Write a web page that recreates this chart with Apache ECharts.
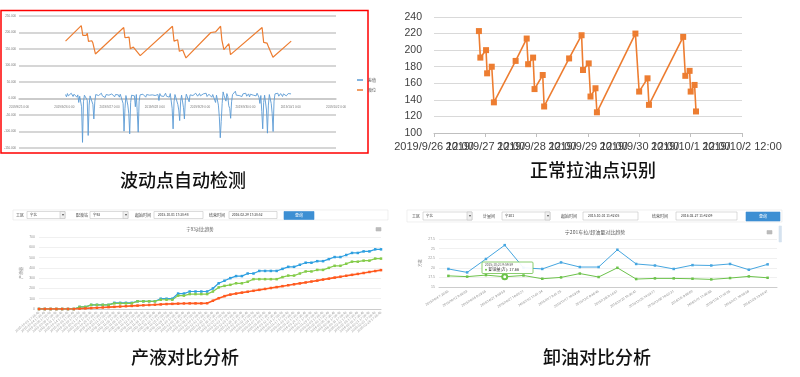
<!DOCTYPE html>
<html>
<head>
<meta charset="utf-8">
<script src="https://cdn.jsdelivr.net/npm/echarts@6/dist/echarts.min.js"></script>
<style>
  html, body { margin: 0; padding: 0; background: #fff; }
  #main { width: 800px; height: 377px; }
</style>
</head>
<body>
<div id="main"></div>
<script>
// ---- 波动点自动检测 (top left) ----
const p1Base = '2019-09-25 00:00'
const p1TickLabels = ['2019/9/25 0:00', '2019/9/26 0:00', '2019/9/27 0:00', '2019/9/28 0:00',
    '2019/9/29 0:00', '2019/9/30 0:00', '2019/10/1 0:00', '2019/10/2 0:00']
const levelTimes = ['2019-09-26 00:40', '2019-09-26 09:00', '2019-09-26 09:50', '2019-09-26 11:35',
    '2019-09-26 12:10', '2019-09-26 12:50', '2019-09-26 14:35', '2019-09-26 15:10', '2019-09-26 16:30',
    '2019-09-27 07:30', '2019-09-27 08:10', '2019-09-27 10:20', '2019-09-27 11:00', '2019-09-27 12:35',
    '2019-09-27 16:15', '2019-09-28 09:20', '2019-09-28 10:10', '2019-09-28 12:05', '2019-09-28 13:00',
    '2019-09-28 14:45', '2019-09-28 16:30', '2019-09-29 05:40', '2019-09-29 08:10', '2019-09-29 10:50',
    '2019-09-29 11:30', '2019-09-29 12:35', '2019-09-29 15:15', '2019-09-29 16:05', '2019-09-30 08:50',
    '2019-09-30 09:40', '2019-09-30 11:25', '2019-09-30 12:20', '2019-09-30 13:10', '2019-09-30 14:35',
    '2019-10-01 00:15']
const levelValues = [174, 221, 191, 191, 198, 173, 175, 168, 135, 215, 184, 186, 151, 156, 130,
    219, 174, 178, 143, 147, 123, 200, 202, 219, 178, 148, 166, 133, 215, 170, 168, 155, 156, 125, 174]
// sampled every 30 min from diffStart
const diffStart = '2019-09-26 00:40'
const diffValues = [
    12, 5, 15, 8, 14, 3, 16, 10, 6, 13, 9, 15, 4, 11, -12, 7, 12, -25, -133, -10, 10, 6, 13, -5,
    -112, -20, 8, 14, 5, -18, -62, -10, 12, 6, 15, 9, 13, 4, 16, 8, 11, 14, 3, 12, 15, 7, 10, 13,
    6, 14, 9, 16, 5, 12, 8, 15, 11, 4, 13, 18, 7, -15, -99, -30, 9, 14, -20, -45, -107, -12, 10, 6,
    14, 8, -25, 12, -40, -102, -8, 11, 15, 6, 13, 9, 16, 4, 12, 8, 15, 10, 5, 14, 11, 7, 16, 9,
    13, 5, 12, -6, 15, 8, 11, 14, 6, 10, 16, 7, 13, 9, 4, 15, 11, -30, -92, -10, 12, 7, 14, -18,
    -35, -67, -8, 10, 5, -28, -62, -5, 13, 8, 15, -10, 11, 6, 14, 9, 12, 4, 16, 10, 7, 13, 15, 8,
    11, 5, 14, 9, 12, 16, 6, 10, 13, 8, 15, 4, 12, 9, 14, -12, 10, 7, -20, -55, -119, -70, -15, 20,
    9, 13, -8, 15, 6, -22, -30, -60, -10, 12, 8, 14, 22, 10, 5, 13, 9, 15, 11, 6, 14, 8, 12, 16,
    7, 11, 14, 5, 13, 9, 15, 10, 6, 12, 8, 16, 11, 4, -15, 9, -40, -92, -12, 10, 6, -35, -105, -20,
    12, 8, -15, -45, -100, -8, 14, 9, 13, 16, 7, 12, 15, 10, 6, 14, 11, 16, 8, 13, 15, 9, 12, 14]

// ---- 正常拉油点识别 (top right) ----
const p2Base = '2019-09-26 12:00'
const p2TickLabels = ['2019/9/26 12:00', '2019/9/27 12:00', '2019/9/28 12:00', '2019/9/29 12:00',
    '2019/9/30 12:00', '2019/10/1 12:00', '2019/10/2 12:00']
const pullTimes = ['2019-09-27 09:00', '2019-09-27 09:40', '2019-09-27 12:20', '2019-09-27 12:50',
    '2019-09-27 15:00', '2019-09-27 16:00', '2019-09-28 02:10', '2019-09-28 07:20', '2019-09-28 08:00',
    '2019-09-28 10:20', '2019-09-28 11:00', '2019-09-28 14:50', '2019-09-28 15:30', '2019-09-29 03:10',
    '2019-09-29 09:00', '2019-09-29 09:40', '2019-09-29 12:20', '2019-09-29 13:10', '2019-09-29 15:30',
    '2019-09-29 16:10', '2019-09-30 10:10', '2019-09-30 11:55', '2019-09-30 15:50', '2019-09-30 16:30',
    '2019-10-01 08:30', '2019-10-01 09:30', '2019-10-01 11:30', '2019-10-01 12:00', '2019-10-01 13:50',
    '2019-10-01 14:30']
const pullValues = [223, 191, 200, 172, 180, 137, 187, 214, 183, 191, 153, 170, 132, 190, 218,
    176, 184, 144, 154, 125, 220, 150, 166, 134, 216, 169, 175, 150, 158, 126]

// ---- 产液对比分析 (bottom left) ----
const p3Dates = ['2015-10-01', '2015-10-04', '2015-10-06', '2015-10-09', '2015-10-11', '2015-10-14',
    '2015-10-16', '2015-10-19', '2015-10-21', '2015-10-24', '2015-10-26', '2015-10-29', '2015-10-31',
    '2015-11-03', '2015-11-05', '2015-11-08', '2015-11-10', '2015-11-13', '2015-11-15', '2015-11-18',
    '2015-11-20', '2015-11-23', '2015-11-25', '2015-11-28', '2015-11-30', '2015-12-03', '2015-12-05',
    '2015-12-08', '2015-12-10', '2015-12-13', '2015-12-15', '2015-12-18', '2015-12-20', '2015-12-23',
    '2015-12-25', '2015-12-28', '2015-12-30', '2016-01-02', '2016-01-04', '2016-01-07', '2016-01-09',
    '2016-01-12', '2016-01-14', '2016-01-17', '2016-01-19', '2016-01-22', '2016-01-24', '2016-01-27',
    '2016-01-29', '2016-02-01', '2016-02-03', '2016-02-06', '2016-02-08', '2016-02-11', '2016-02-13',
    '2016-02-16', '2016-02-18', '2016-02-21', '2016-02-23', '2016-02-26']
const p3Blue = [0, 0, 0, 0, 0, 0, 0, 20, 20, 40, 40, 40, 40, 60, 60, 60, 60, 75, 75, 75, 75, 100, 100, 100,
    150, 150, 170, 170, 170, 170, 200, 250, 275, 300, 320, 320, 345, 345, 370, 370, 370, 370, 390, 410,
    410, 430, 450, 450, 465, 465, 485, 505, 505, 525, 545, 545, 560, 560, 580, 580]
const p3Green = [0, 0, 0, 0, 0, 0, 0, 20, 20, 40, 40, 40, 40, 55, 55, 55, 55, 75, 75, 75, 75, 90, 90, 90,
    130, 130, 145, 145, 145, 145, 170, 210, 225, 235, 250, 250, 265, 290, 290, 290, 290, 290, 310, 325,
    325, 345, 365, 365, 380, 380, 400, 420, 420, 440, 460, 460, 470, 470, 490, 490]
const p3Red = [0, 0, 0, 0, 0, 0, 0, 3, 6, 9, 12, 15, 18, 21, 24, 27, 30, 33, 36, 39, 42, 45, 48, 50,
    52, 54, 55, 55, 55, 56, 80, 105, 125, 140, 150, 159, 168, 177, 186, 195, 204, 213, 222, 231,
    240, 249, 258, 267, 276, 286, 295, 305, 314, 323, 332, 341, 350, 360, 369, 378]

// ---- 卸油对比分析 (bottom right) ----
const p4Times = ['2015/10/4 7:29:55', '2015/10/12 9:59:03', '2015/10/16 8:29:55', '2015/10/21 9:59:59',
    '2015/10/27 10:03:21', '2015/11/2 11:01:34', '2015/11/7 9:41:25', '2015/11/17 10:09:06',
    '2015/12/2 8:46:45', '2015/12/8 9:14:51', '2015/12/20 10:35:41', '2015/12/25 14:53:17',
    '2015/12/30 10:02:31', '2016/1/5 9:58:00', '2016/1/11 11:49:58', '2016/1/16 11:10:05',
    '2016/1/21 10:56:58', '2016/1/26 13:55:47']
const p4Pull = [19.7, 18.8, 22.3, 25.9, 20.0, 19.7, 21.4, 20.2, 20.2, 24.7, 21.0, 20.6, 19.7, 20.7,
    20.6, 21.0, 19.5, 20.9]
const p4Unload = [17.9, 17.7, 18.1, 17.66, 18.0, 17.15, 17.5, 18.5, 17.6, 20.0, 17.07, 17.24, 17.24,
    17.15, 16.98, 17.33, 17.76, 17.4]

const CJK = '"Noto Sans CJK SC", "Noto Sans", sans-serif'
const toHours = (s, base) =>
    (Date.parse(s.replace(' ', 'T')) - Date.parse(base.replace(' ', 'T'))) / 3600000
const diffT0 = toHours(diffStart, p1Base)

// small helpers for the screenshot-like form bars
function txt(x, y, s, size, color, align) {
    return {type: 'text', x, y, silent: true, style: {
        text: s, fontSize: size || 4, fontFamily: CJK, fill: color || '#444',
        textAlign: align || 'left', textVerticalAlign: 'middle'}}
}
function box(x, y, w, h, fill, stroke) {
    return {type: 'rect', silent: true, shape: {x, y, width: w, height: h},
        style: {fill: fill || '#fff', stroke: stroke || '#c4c4c4', lineWidth: 0.6}}
}
function select(x, y, w, h, s) {
    return [box(x, y, w, h), txt(x + 3, y + h / 2, s, 3.4, '#333'),
        box(x + w - 5, y, 5, h, '#f0f0f0'), txt(x + w - 2.5, y + h / 2, '▾', 3.5, '#555', 'center')]
}
function menuIcon(x, y) {
    return [box(x, y, 5, 3.5, '#bbb', '#bbb')]
}

const graphic = [
    // red frame of first picture
    {type: 'rect', silent: true, shape: {x: 1, y: 10.5, width: 367, height: 142.5},
        style: {fill: 'none', stroke: '#ff0000', lineWidth: 1.5}},
    // form of 产液对比
    box(13, 210, 375, 10, '#fff', '#e6e6e6'),
    txt(16, 215, '工区', 4),
    ...select(27, 211.5, 38, 7, '宁北'),
    txt(76, 215, '配液站', 4),
    ...select(90, 211.5, 38, 7, '宁93'),
    txt(135, 215, '起始时间', 4),
    box(154, 211.5, 49, 7), txt(158, 215, '2015-10-01 17:38:48', 3.3, '#333'),
    txt(209, 215, '结束时间', 4),
    box(229, 211.5, 48, 7), txt(232, 215, '2016-02-29 17:38:52', 3.3, '#333'),
    box(284, 211.5, 30, 8, '#3d8fd3', '#3d8fd3'), txt(299, 215.5, '查询', 4, '#fff', 'center'),
    txt(200, 229, '宁93对比趋势', 4.5, '#555', 'center'),
    ...menuIcon(376, 227.5),
    // form of 卸油对比
    box(407, 210, 375, 12, '#fff', '#e6e6e6'),
    txt(412, 216, '工区', 4),
    ...select(423, 212, 49, 8, '宁北'),
    txt(483, 216, '计量间', 4),
    ...select(502, 212, 48, 8, '宁201'),
    txt(561, 216, '起始时间', 4),
    box(583, 212, 55, 8), txt(588, 216, '2015-10-01 11:42:05', 3.4, '#333'),
    txt(652, 216, '结束时间', 4),
    box(676, 212, 61, 8), txt(681, 216, '2016-02-27 11:42:09', 3.4, '#333'),
    box(746, 212, 34, 9, '#3d8fd3', '#3d8fd3'), txt(763, 216.5, '查询', 4, '#fff', 'center'),
    txt(595, 232, '宁201车拉/卸油量对比趋势', 5, '#555', 'center'),
    ...menuIcon(767, 230.5),
    box(779, 226, 2.5, 16, '#d5e2ef', '#d5e2ef'),
    // fixed tooltip of 卸油对比
    {type: 'rect', silent: true, z: 100, shape: {x: 482, y: 262, width: 51, height: 11.5, r: 1},
        style: {fill: 'rgba(255,255,255,0.92)', stroke: '#6cc24a', lineWidth: 0.8}},
    {...txt(485, 265, '2015/10/21 9:59:59', 3.2, '#555'), z: 101},
    {type: 'circle', silent: true, z: 101, shape: {cx: 486, cy: 269.8, r: 1}, style: {fill: '#6cc24a'}},
    {...txt(488.5, 269.8, '卸油量(方): 17.66', 4, '#333'), z: 101},
    // captions
    txt(183, 180, '波动点自动检测', 18, '#111', 'center'),
    txt(593, 170, '正常拉油点识别', 18, '#111', 'center'),
    txt(185, 357, '产液对比分析', 18, '#111', 'center'),
    txt(597, 357, '卸油对比分析', 18, '#111', 'center')
]
graphic.forEach(g => { if (g.type === 'text' && g.style.fontSize >= 18) g.style.fontWeight = 500 })

const p1Height = 132
const chart = echarts.init(document.getElementById('main'))
chart.setOption({
    animation: false,
    backgroundColor: '#fff',
    graphic,
    legend: [{
        data: ['差值', '液位'], orient: 'vertical', left: 352, top: 73,
        itemWidth: 6, itemHeight: 1.5, itemGap: 6, icon: 'rect',
        textStyle: {fontSize: 4, color: '#555', fontFamily: CJK}
    }],
    grid: [
        {left: 19, top: 16, width: 317, height: p1Height},
        {left: 434, top: 17, width: 308, height: 116},
        {left: 39, top: 237, width: 342, height: 72},
        {left: 439, top: 239, width: 338, height: 48}
    ],
    xAxis: [
        {
            // date labels sit on the 0 line, as in the spreadsheet chart
            gridIndex: 0, type: 'value', min: 0, max: 168, interval: 24,
            offset: -p1Height * 150 / 400,
            axisLine: {onZero: false, lineStyle: {color: '#c8c8c8', width: 1.5}},
            axisTick: {show: false}, splitLine: {show: false},
            axisLabel: {fontSize: 3, color: '#777', margin: 7, formatter: v => p1TickLabels[v / 24]}
        },
        {
            gridIndex: 1, type: 'value', min: 0, max: 144, show: false
        },
        {
            gridIndex: 2, type: 'category', boundaryGap: false, data: p3Dates,
            axisLine: {lineStyle: {color: '#ccc'}}, axisTick: {show: false},
            axisLabel: {fontSize: 3.3, color: '#999', rotate: 40, interval: 0, margin: 3,
                formatter: v => v + ' 17:38:48'}
        },
        {
            gridIndex: 3, type: 'category', boundaryGap: true, data: p4Times,
            axisLine: {lineStyle: {color: '#ccc'}}, axisTick: {show: false},
            axisLabel: {fontSize: 3.3, color: '#888', rotate: 32, interval: 0, margin: 4}
        },
        {
            // day ticks of the pull chart; every label kept even where they overlap
            gridIndex: 1, type: 'category', position: 'bottom', boundaryGap: false, data: p2TickLabels,
            axisLine: {lineStyle: {color: '#bfbfbf'}},
            axisTick: {show: true, interval: 0, length: 4, lineStyle: {color: '#bfbfbf'}},
            splitLine: {show: false},
            axisLabel: {fontSize: 11, color: '#404040', margin: 8, fontFamily: 'Liberation Sans', interval: 0}
        }
    ],
    yAxis: [
        {
            gridIndex: 0, type: 'value', min: -150, max: 250, interval: 50,
            axisLine: {show: false, onZero: false}, axisTick: {show: false},
            splitLine: {lineStyle: {color: '#c8c8c8', width: 1.5}},
            axisLabel: {fontSize: 3, color: '#777', margin: 3, formatter: v => v.toFixed(3)}
        },
        {
            gridIndex: 1, type: 'value', min: 100, max: 240, interval: 20,
            axisLine: {show: false, onZero: false}, axisTick: {show: false},
            splitLine: {lineStyle: {color: '#d9d9d9'}},
            axisLabel: {fontSize: 10.5, color: '#404040', margin: 12, fontFamily: 'Liberation Sans'}
        },
        {
            gridIndex: 2, type: 'value', min: 0, max: 700, interval: 100,
            name: '产液量', nameLocation: 'middle', nameRotate: 90, nameGap: 16,
            nameTextStyle: {fontSize: 4, color: '#888', fontFamily: CJK},
            axisLine: {show: false}, axisTick: {show: false},
            splitLine: {lineStyle: {color: '#f0f0f0'}},
            axisLabel: {fontSize: 3.5, color: '#999', margin: 4}
        },
        {
            gridIndex: 3, type: 'value', min: 15, max: 27.5, interval: 2.5,
            name: '方数', nameLocation: 'middle', nameRotate: 90, nameGap: 17,
            nameTextStyle: {fontSize: 4, color: '#888', fontFamily: CJK},
            axisLine: {show: false}, axisTick: {show: false},
            splitLine: {lineStyle: {color: '#f0f0f0'}},
            axisLabel: {fontSize: 3.5, color: '#999', margin: 4}
        }
    ],
    series: [
        {
            name: '差值', type: 'line', xAxisIndex: 0, yAxisIndex: 0, showSymbol: false,
            data: diffValues.map((v, i) => [diffT0 + i * 0.5, v]),
            lineStyle: {color: '#5B9BD5', width: 0.9}, itemStyle: {color: '#5B9BD5'}
        },
        {
            name: '液位', type: 'line', xAxisIndex: 0, yAxisIndex: 0, showSymbol: false,
            data: levelTimes.map((t, i) => [toHours(t, p1Base), levelValues[i]]),
            lineStyle: {color: '#ED7D31', width: 1.2}, itemStyle: {color: '#ED7D31'}
        },
        {
            name: '拉油点', type: 'line', xAxisIndex: 1, yAxisIndex: 1,
            symbol: 'rect', symbolSize: 6,
            data: pullTimes.map((t, i) => [toHours(t, p2Base), pullValues[i]]),
            lineStyle: {color: '#ED7D31', width: 1.6}, itemStyle: {color: '#ED7D31'}
        },
        {
            name: '理论产液', type: 'line', xAxisIndex: 2, yAxisIndex: 2,
            symbol: 'rect', symbolSize: 2.5, data: p3Blue,
            lineStyle: {color: '#2e9fe0', width: 1.2}, itemStyle: {color: '#2e9fe0'}
        },
        {
            name: '计量产液', type: 'line', xAxisIndex: 2, yAxisIndex: 2,
            symbol: 'rect', symbolSize: 2.5, data: p3Green,
            lineStyle: {color: '#84cc4a', width: 1.2}, itemStyle: {color: '#84cc4a'}
        },
        {
            name: '卸油', type: 'line', xAxisIndex: 2, yAxisIndex: 2,
            symbol: 'rect', symbolSize: 2.5, data: p3Red,
            lineStyle: {color: '#ff5a1f', width: 1.6}, itemStyle: {color: '#ff5a1f'}
        },
        {
            name: '车拉量', type: 'line', xAxisIndex: 3, yAxisIndex: 3,
            symbol: 'rect', symbolSize: 2.5, data: p4Pull,
            lineStyle: {color: '#46a6e0', width: 1}, itemStyle: {color: '#46a6e0'}
        },
        {
            name: '卸油量', type: 'line', xAxisIndex: 3, yAxisIndex: 3,
            symbol: 'rect', symbolSize: 2.5,
            data: p4Unload.map((v, i) => i === 3 ? {value: v, symbol: 'emptyCircle', symbolSize: 5} : v),
            lineStyle: {color: '#6cc24a', width: 1}, itemStyle: {color: '#6cc24a'}
        }
    ]
})
</script>
</body>
</html>
